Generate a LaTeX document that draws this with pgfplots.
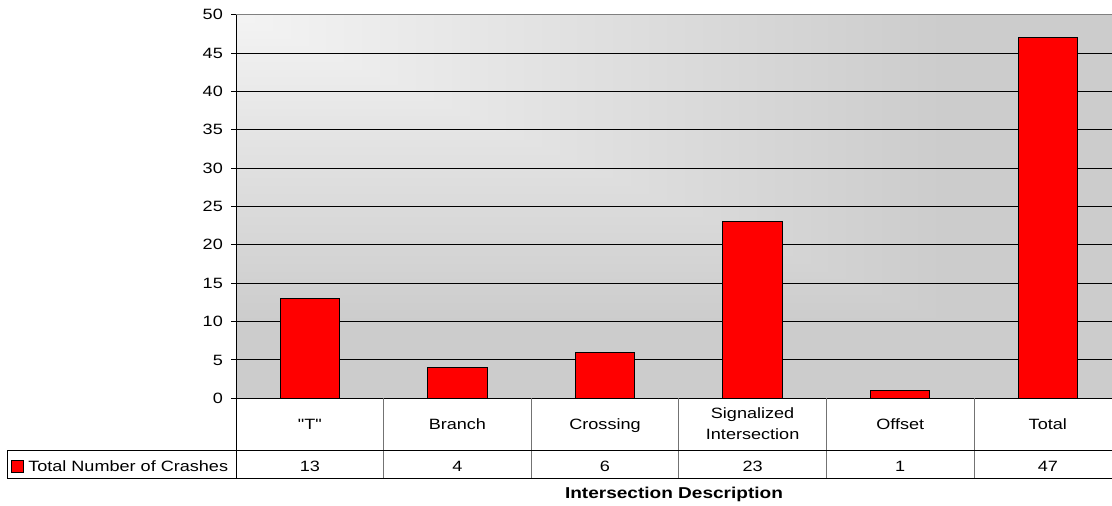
\documentclass[border=0pt]{standalone}
\usepackage{pgfplots}
\pgfplotsset{compat=1.18}
\usepackage{fontspec}
\setmainfont{Liberation Sans}[FakeStretch=1.21, Ligatures=TeXOff]

% light in the upper left corner, fading to grey towards the right and the bottom
\pgfdeclarefunctionalshading{cornerfade}{\pgfpointorigin}{\pgfpoint{100bp}{100bp}}{}{
75 exch sub 50 div exch 25 sub 50 div 2 copy lt {exch} if pop
dup 0 lt {pop 0} if 0.8 div dup 1 gt {pop 1} if
-0.155 mul 0.955 add dup dup
}

\newcommand\tabfont{\fontsize{11.2}{15.75}\selectfont}

\begin{document}
\begin{tikzpicture}
\useasboundingbox (0,0) rectangle (834pt,379.5pt);
\begin{axis}[
  at={(177pt,80.775pt)}, anchor=south west,
  scale only axis, width=664.2pt, height=287.7pt,
  xmin=-0.5, xmax=5.5, ymin=0, ymax=50,
  xtick=\empty, ytick={0,5,...,50},
  axis x line*=bottom, axis y line*=left,
  axis line style={black, line width=0.75pt},
  ymajorgrids, grid style={black, line width=0.8pt},
  tick align=outside, major tick length=3.75pt,
  ytick style={black, line width=0.75pt},
  /pgf/number format/assume math mode=true,
  yticklabel style={font=\tabfont, xshift=-2.6pt},
  axis background/.style={shade, shading=cornerfade},
  clip=false,
]
\addplot[ybar, bar width=44.6pt, fill=red, draw=black, line width=0.8pt]
  coordinates {(0,13) (1,4) (2,6) (3,23) (4,1) (5,47)};
\draw[gray, line width=0.75pt] (rel axis cs:0,1) -- (rel axis cs:1,1);
\end{axis}

% data table under the plot area (units: 1 = 0.75pt)
\begin{scope}[x=0.75pt,y=0.75pt]
\foreach \k in {1,...,5}
  \draw[black!55, line width=0.75pt] ({236+147.6*\k},107.7) -- ({236+147.6*\k},27.7);
\draw[black, line width=0.75pt] (236,107.7) -- (236,27.7);
\draw[black, line width=0.75pt] (7,55.3) -- (1112,55.3);
\draw[black, line width=0.75pt] (7,27.7) -- (1112,27.7);
\draw[black, line width=0.75pt] (7,55.3) -- (7,27.7);

% category names
\foreach \i/\t in {0/"T",1/Branch,2/Crossing,4/Offset,5/Total}
  \node[font=\tabfont, anchor=base, inner sep=0pt] at ({236+147.6*(\i+0.5)},76) {\t};
\node[font=\tabfont, anchor=base, inner sep=0pt] at ({236+147.6*3.5},87.2) {Signalized};
\node[font=\tabfont, anchor=base, inner sep=0pt] at ({236+147.6*3.5},66.2) {Intersection};

% values
\foreach \i/\v in {0/13,1/4,2/6,3/23,4/1,5/47}
  \node[font=\tabfont, anchor=base, inner sep=0pt] at ({236+147.6*(\i+0.5)},34) {\v};

\draw[fill=red, draw=black, line width=0.75pt] (11,45) rectangle (23,33);
\node[font=\tabfont, anchor=base west, inner sep=0pt] at (28,34) {Total Number of Crashes};

\node[font=\fontsize{11.8}{14}\selectfont\bfseries, inner sep=0pt] at (674,12) {Intersection Description};
\end{scope}
\end{tikzpicture}
\end{document}
